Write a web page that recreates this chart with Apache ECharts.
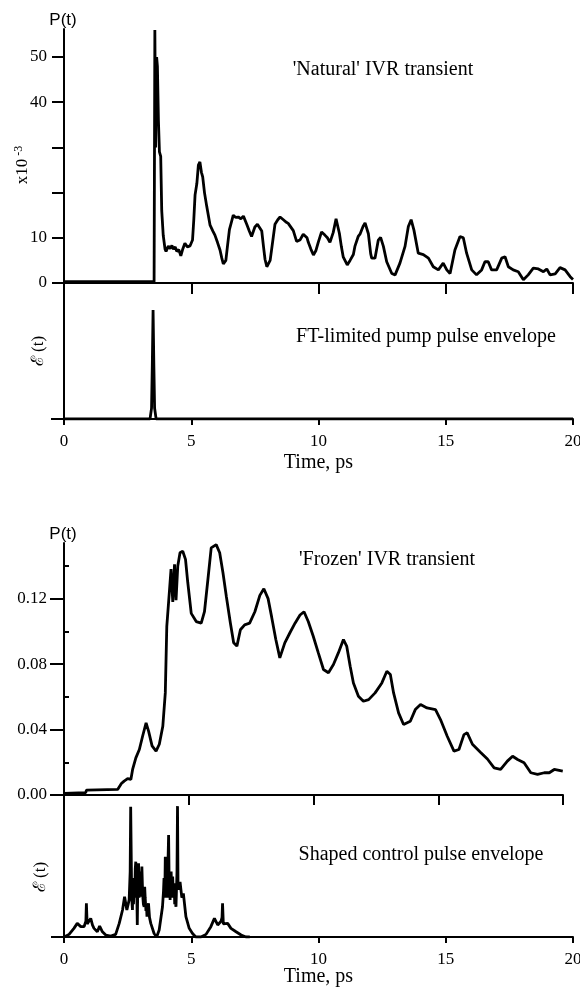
<!DOCTYPE html>
<html>
<head>
<meta charset="utf-8">
<script src="https://cdn.jsdelivr.net/npm/echarts@6/dist/echarts.min.js"></script>
<style>
html,body{margin:0;padding:0;background:#fff;}
#chart{width:580px;height:993px;}
</style>
</head>
<body>
<div id="chart"></div>
<script>
// ---------------- data ----------------
// Top: 'Natural' IVR transient, P(t) in units of 1e-3
var natT = [0, 3.54, 3.57, 3.60, 3.62, 3.64, 3.67, 3.71, 3.75, 3.80, 3.84, 3.90, 3.97, 4.01, 4.10, 4.17, 4.24, 4.30, 4.37, 4.43, 4.51, 4.59, 4.66, 4.75, 4.85, 4.95, 5.05, 5.10, 5.15, 5.22, 5.28, 5.34, 5.40, 5.45, 5.52, 5.61, 5.74, 5.85, 5.93, 6.03, 6.13, 6.20, 6.26, 6.36, 6.43, 6.50, 6.58, 6.65, 6.75, 6.85, 6.95, 7.05, 7.18, 7.28, 7.37, 7.50, 7.60, 7.67, 7.77, 7.84, 7.90, 7.97, 8.03, 8.10, 8.16, 8.29, 8.40, 8.49, 8.62, 8.72, 8.81, 9.01, 9.14, 9.27, 9.40, 9.47, 9.55, 9.60, 9.70, 9.80, 9.90, 9.99, 10.12, 10.25, 10.35, 10.45, 10.58, 10.69, 10.82, 10.90, 10.97, 11.13, 11.24, 11.37, 11.43, 11.56, 11.63, 11.75, 11.83, 11.96, 12.05, 12.09, 12.22, 12.35, 12.44, 12.55, 12.68, 12.88, 13.01, 13.20, 13.40, 13.53, 13.64, 13.75, 13.92, 14.12, 14.32, 14.51, 14.71, 14.90, 15.04, 15.17, 15.36, 15.56, 15.69, 15.82, 16.02, 16.21, 16.41, 16.54, 16.67, 16.80, 17.00, 17.20, 17.33, 17.46, 17.65, 17.85, 18.05, 18.24, 18.44, 18.64, 18.84, 18.97, 19.10, 19.30, 19.49, 19.69, 19.89, 20.0];
var natP = [0.3, 0.3, 56.0, 30.0, 45.0, 50.0, 48.0, 36.0, 29.0, 28.0, 16.0, 10.5, 7.5, 7.0, 8.2, 7.6, 8.3, 7.5, 8.0, 7.0, 7.4, 6.0, 7.4, 8.8, 8.0, 8.2, 9.5, 14.0, 19.5, 22.0, 26.1, 26.8, 24.5, 23.5, 20.0, 16.9, 12.8, 11.5, 10.6, 9.0, 7.3, 5.5, 4.2, 5.0, 8.5, 11.8, 13.5, 15.0, 14.5, 14.6, 14.2, 14.8, 13.0, 11.5, 10.3, 12.4, 13.0, 13.1, 11.5, 8.0, 5.2, 3.6, 3.3, 5.0, 7.5, 13.0, 14.0, 14.6, 14.0, 13.5, 13.2, 11.6, 9.2, 9.5, 10.8, 11.0, 10.0, 9.0, 7.5, 6.2, 7.2, 9.0, 11.3, 10.6, 10.0, 9.0, 11.2, 14.2, 11.0, 8.0, 5.8, 4.0, 5.0, 6.3, 8.1, 10.3, 10.8, 12.5, 13.3, 10.9, 6.5, 5.5, 5.5, 9.5, 10.1, 8.1, 4.7, 2.1, 1.8, 4.4, 8.1, 12.5, 14.0, 11.7, 6.6, 6.3, 5.5, 3.6, 2.9, 4.4, 2.9, 2.1, 7.3, 10.3, 10.0, 6.6, 2.9, 1.8, 2.9, 4.7, 4.7, 2.9, 2.9, 5.5, 5.8, 3.6, 2.9, 2.5, 0.7, 1.8, 3.3, 3.1, 2.5, 3.1, 1.8, 2.0, 3.4, 2.9, 1.4, 0.8];

// FT-limited pump pulse envelope (arbitrary units)
var pumpT = [0, 3.38, 3.44, 3.47, 3.50, 3.53, 3.56, 3.62, 20];
var pumpE = [0, 0, 0.10, 0.50, 1.00, 0.50, 0.10, 0, 0];

// Bottom: 'Frozen' IVR transient, P(t)
var frzT = [0, 0.87, 0.90, 2.15, 2.21, 2.30, 2.41, 2.55, 2.68, 2.75, 2.88, 3.02, 3.15, 3.29, 3.39, 3.53, 3.69, 3.82, 3.96, 4.06, 4.12, 4.23, 4.29, 4.36, 4.43, 4.49, 4.56, 4.65, 4.76, 4.87, 4.96, 5.10, 5.30, 5.50, 5.63, 5.77, 5.90, 6.10, 6.24, 6.37, 6.51, 6.67, 6.80, 6.93, 7.07, 7.24, 7.44, 7.65, 7.85, 8.01, 8.18, 8.32, 8.49, 8.65, 8.85, 9.05, 9.26, 9.46, 9.62, 9.79, 9.99, 10.19, 10.40, 10.60, 10.80, 11.00, 11.20, 11.33, 11.47, 11.60, 11.80, 12.00, 12.21, 12.47, 12.74, 12.94, 13.08, 13.21, 13.41, 13.61, 13.88, 14.08, 14.29, 14.55, 14.89, 15.09, 15.36, 15.63, 15.83, 16.03, 16.16, 16.37, 16.70, 16.97, 17.24, 17.50, 17.77, 17.98, 18.18, 18.44, 18.71, 18.98, 19.25, 19.45, 19.65, 19.99];
var frzP = [0.0010, 0.0015, 0.0030, 0.0034, 0.0044, 0.0070, 0.0085, 0.0100, 0.0095, 0.0156, 0.0227, 0.0278, 0.0359, 0.0441, 0.0390, 0.0300, 0.0268, 0.0310, 0.0420, 0.0624, 0.1030, 0.1255, 0.1380, 0.1180, 0.1410, 0.1190, 0.1400, 0.1480, 0.1490, 0.1440, 0.1300, 0.1110, 0.1060, 0.1050, 0.1120, 0.1320, 0.1510, 0.1530, 0.1480, 0.1360, 0.1210, 0.1050, 0.0930, 0.0910, 0.1010, 0.1040, 0.1050, 0.1120, 0.1220, 0.1260, 0.1200, 0.1090, 0.0950, 0.0838, 0.0930, 0.0990, 0.1050, 0.1100, 0.1120, 0.1060, 0.0970, 0.0870, 0.0767, 0.0747, 0.0797, 0.0870, 0.0950, 0.0910, 0.0787, 0.0685, 0.0604, 0.0573, 0.0583, 0.0624, 0.0685, 0.0756, 0.0736, 0.0624, 0.0502, 0.0431, 0.0451, 0.0522, 0.0553, 0.0532, 0.0522, 0.0461, 0.0359, 0.0268, 0.0278, 0.0369, 0.0380, 0.0310, 0.0260, 0.0220, 0.0166, 0.0156, 0.0207, 0.0237, 0.0217, 0.0197, 0.0136, 0.0126, 0.0136, 0.0136, 0.0156, 0.0146];

// Shaped control pulse envelope (arbitrary units)
var shpT = [0, 0.20, 0.39, 0.52, 0.66, 0.79, 0.86, 0.88, 0.91, 0.98, 1.05, 1.12, 1.18, 1.31, 1.40, 1.51, 1.64, 1.84, 2.03, 2.17, 2.30, 2.38, 2.47, 2.56, 2.60, 2.62, 2.66, 2.69, 2.71, 2.73, 2.76, 2.78, 2.80, 2.82, 2.84, 2.86, 2.88, 2.90, 2.93, 2.95, 2.97, 2.99, 3.01, 3.03, 3.06, 3.08, 3.10, 3.12, 3.15, 3.17, 3.19, 3.22, 3.24, 3.26, 3.29, 3.32, 3.36, 3.41, 3.54, 3.64, 3.74, 3.87, 3.91, 3.93, 3.96, 3.98, 4.00, 4.02, 4.05, 4.07, 4.09, 4.11, 4.13, 4.15, 4.17, 4.19, 4.21, 4.24, 4.27, 4.30, 4.33, 4.35, 4.37, 4.40, 4.44, 4.46, 4.48, 4.50, 4.53, 4.56, 4.59, 4.63, 4.69, 4.79, 4.92, 5.05, 5.18, 5.38, 5.58, 5.77, 5.91, 6.04, 6.17, 6.21, 6.23, 6.26, 6.30, 6.43, 6.56, 6.76, 6.96, 7.15, 7.30];
var shpE = [0, 0.020, 0.066, 0.104, 0.079, 0.080, 0.120, 0.257, 0.100, 0.120, 0.142, 0.090, 0.066, 0.040, 0.083, 0.040, 0.015, 0.007, 0.020, 0.104, 0.206, 0.308, 0.206, 0.283, 0.500, 0.995, 0.300, 0.206, 0.450, 0.250, 0.410, 0.300, 0.520, 0.575, 0.300, 0.350, 0.092, 0.400, 0.562, 0.300, 0.450, 0.308, 0.500, 0.350, 0.537, 0.400, 0.300, 0.250, 0.231, 0.384, 0.300, 0.200, 0.250, 0.155, 0.220, 0.257, 0.150, 0.104, 0.027, 0.000, 0.053, 0.231, 0.350, 0.450, 0.300, 0.613, 0.400, 0.350, 0.537, 0.300, 0.600, 0.779, 0.450, 0.400, 0.283, 0.450, 0.500, 0.300, 0.461, 0.300, 0.410, 0.250, 0.280, 0.231, 0.500, 0.999, 0.400, 0.360, 0.359, 0.420, 0.435, 0.300, 0.333, 0.155, 0.066, 0.027, 0.000, 0.000, 0.020, 0.079, 0.142, 0.092, 0.120, 0.150, 0.257, 0.100, 0.092, 0.104, 0.066, 0.040, 0.015, 0.000, 0.000];

// tick values
var timeTicks = [0, 5, 10, 15, 20];
var natTicks = [0, 10, 20, 30, 40, 50];
var natLabels = [0, 10, 40, 50];
var frzMajor = [0, 0.04, 0.08, 0.12];
var frzMinor = [0.02, 0.06, 0.10, 0.14];

// ---------------- chart ----------------
function zip(a, b) { return a.map(function (v, i) { return [v, b[i]]; }); }
var SERIF = '"Liberation Serif", "Times New Roman", "DejaVu Serif", serif';
var SANS = '"Liberation Sans", Arial, sans-serif';
var BLACK = '#000';

function xAx(gi, opts) {
  var o = {
    type: 'value', gridIndex: gi, min: 0, max: 20,
    axisLine: { show: true, onZero: false, lineStyle: { color: BLACK, width: 2 } },
    axisTick: { show: true, inside: false, length: opts.tickLen, lineStyle: { color: BLACK, width: 2 }, customValues: timeTicks },
    axisLabel: { show: !!opts.labels, customValues: timeTicks, margin: 14, fontFamily: SERIF, fontSize: 17, color: BLACK },
    splitLine: { show: false },
    nameMoveOverlap: false
  };
  if (opts.name) {
    o.name = 'Time, ps';
    o.nameLocation = 'middle';
    o.nameGap = opts.nameGap;
    o.nameTextStyle = { fontFamily: SERIF, fontSize: 20, color: BLACK };
  }
  return o;
}

function yAx(gi, max, ticks, labels, tickLen, extra) {
  var o = {
    type: 'value', gridIndex: gi, min: 0, max: max,
    axisLine: { show: true, onZero: false, lineStyle: { color: BLACK, width: 2 } },
    axisTick: { show: true, inside: false, length: tickLen, lineStyle: { color: BLACK, width: 2 }, customValues: ticks },
    axisLabel: { show: labels.length > 0, customValues: labels.length ? labels : ticks, margin: 17, fontFamily: SERIF, fontSize: 17, color: BLACK },
    splitLine: { show: false },
    nameMoveOverlap: false
  };
  for (var k in extra) o[k] = extra[k];
  return o;
}

var chart = echarts.init(document.getElementById('chart'), null, { renderer: 'canvas' });

var option = {
  animation: false,
  backgroundColor: '#fff',
  grid: [
    { left: 64, top: 29, width: 509, height: 254, containLabel: false, outerBoundsMode: 'none' },
    { left: 64, top: 283, width: 509, height: 136, containLabel: false, outerBoundsMode: 'none' },
    { left: 64, top: 543, width: 499, height: 252, containLabel: false, outerBoundsMode: 'none' },
    { left: 64, top: 795, width: 509, height: 142, containLabel: false, outerBoundsMode: 'none' }
  ],
  xAxis: [
    xAx(0, { tickLen: 11 }),
    xAx(1, { tickLen: 6, labels: true, name: true, nameGap: 34 }),
    xAx(2, { tickLen: 10 }),
    xAx(3, { tickLen: 6, labels: true, name: true, nameGap: 30 })
  ],
  yAxis: [
    yAx(0, 56.2, natTicks, natLabels, 12, {
      name: '{a|x10}{b| -3}', nameLocation: 'middle', nameRotate: 90, nameGap: 31,
      nameTextStyle: { color: BLACK, padding: [0, 18, 0, 0], rich: {
        a: { fontFamily: SERIF, fontSize: 17, color: BLACK, lineHeight: 20 },
        b: { fontFamily: SERIF, fontSize: 12, color: BLACK, verticalAlign: 'top', lineHeight: 20 }
      } }
    }),
    yAx(1, 1.248, [0], [], 13, {
      name: '\u2130 (t)', nameLocation: 'middle', nameRotate: 90, nameGap: 17,
      nameTextStyle: { fontFamily: SERIF, fontSize: 17, color: BLACK }
    }),
    yAx(2, 0.154, frzMajor, frzMajor, 14, {
      axisLabel: { show: true, customValues: frzMajor, margin: 17, fontFamily: SERIF, fontSize: 17, color: BLACK,
        formatter: function (v) { return v.toFixed(2); } }
    }),
    yAx(3, 1.084, [0], [], 13, {
      name: '\u2130 (t)', nameLocation: 'middle', nameRotate: 90, nameGap: 15,
      nameTextStyle: { fontFamily: SERIF, fontSize: 17, color: BLACK, padding: [0, 22, 0, 0] }
    }),
    // minor ticks for the frozen panel
    yAx(2, 0.154, frzMinor, [], 5, { axisLine: { show: false }, axisLabel: { show: false } })
  ],
  series: [
    { type: 'line', xAxisIndex: 0, yAxisIndex: 0, data: zip(natT, natP), showSymbol: false, lineStyle: { color: BLACK, width: 2.8 }, z: 3 },
    { type: 'line', xAxisIndex: 1, yAxisIndex: 1, data: zip(pumpT, pumpE), showSymbol: false, lineStyle: { color: BLACK, width: 2.8 }, z: 3 },
    { type: 'line', xAxisIndex: 2, yAxisIndex: 2, data: zip(frzT, frzP), showSymbol: false, lineStyle: { color: BLACK, width: 2.8 }, z: 3 },
    { type: 'line', xAxisIndex: 3, yAxisIndex: 3, data: zip(shpT, shpE), showSymbol: false, lineStyle: { color: BLACK, width: 2.8 }, z: 3 }
  ],
  graphic: [
    { type: 'text', x: 63, y: 20, style: { text: 'P(t)', font: '17px ' + SANS, fill: BLACK, align: 'center', verticalAlign: 'middle', textAlign: 'center', textVerticalAlign: 'middle' } },
    { type: 'text', x: 63, y: 534, style: { text: 'P(t)', font: '17px ' + SANS, fill: BLACK, align: 'center', verticalAlign: 'middle', textAlign: 'center', textVerticalAlign: 'middle' } },
    { type: 'text', x: 383, y: 70, style: { text: "'Natural' IVR transient", font: '20px ' + SERIF, fill: BLACK, align: 'center', verticalAlign: 'middle', textAlign: 'center', textVerticalAlign: 'middle' } },
    { type: 'text', x: 426, y: 337, style: { text: 'FT-limited pump pulse envelope', font: '20px ' + SERIF, fill: BLACK, align: 'center', verticalAlign: 'middle', textAlign: 'center', textVerticalAlign: 'middle' } },
    { type: 'text', x: 387, y: 560, style: { text: "'Frozen' IVR transient", font: '20px ' + SERIF, fill: BLACK, align: 'center', verticalAlign: 'middle', textAlign: 'center', textVerticalAlign: 'middle' } },
    { type: 'text', x: 421, y: 855, style: { text: 'Shaped control pulse envelope', font: '20px ' + SERIF, fill: BLACK, align: 'center', verticalAlign: 'middle', textAlign: 'center', textVerticalAlign: 'middle' } }
  ]
};
chart.setOption(option);
</script>
</body>
</html>
